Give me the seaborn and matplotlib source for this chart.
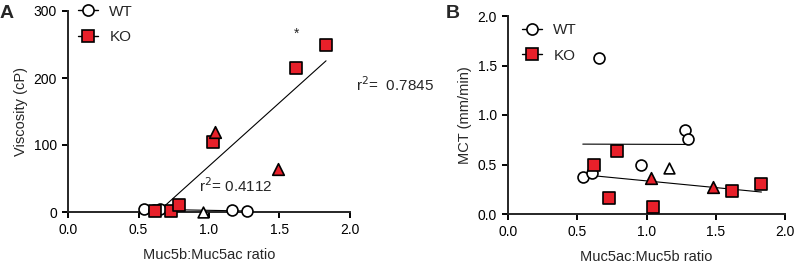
import numpy as np
import pandas as pd
import matplotlib
matplotlib.use("Agg")
import matplotlib.pyplot as plt
from matplotlib.lines import Line2D
import seaborn as sns

# ── Panel A: viscosity vs Muc5b:Muc5ac ratio ─────────────────────
A_WT_X = [0.54, 0.61, 0.65, 1.16, 1.27]
A_WT_Y = [5, 3, 5, 3, 2]
A_WT_TRI_X = [0.96]
A_WT_TRI_Y = [0]
A_KO_X = [0.62, 0.73, 0.79, 1.03, 1.62, 1.83]
A_KO_Y = [1, 1, 10, 105, 215, 250]
A_KO_TRI_X = [1.04, 1.49]
A_KO_TRI_Y = [120, 64]

# ── Panel B: MCT vs Muc5ac:Muc5b ratio ───────────────────────────
B_WT_X = [0.54, 0.61, 0.66, 0.96, 1.28, 1.30]
B_WT_Y = [0.37, 0.41, 1.58, 0.50, 0.85, 0.76]
B_WT_TRI_X = [1.16]
B_WT_TRI_Y = [0.46]
B_KO_X = [0.62, 0.73, 0.79, 1.05, 1.62, 1.83]
B_KO_Y = [0.49, 0.16, 0.64, 0.07, 0.23, 0.30]
B_KO_TRI_X = [1.03, 1.48]
B_KO_TRI_Y = [0.36, 0.27]

RED = "#e8202a"
W, H = 796, 266

sns.set_style("ticks")
plt.rcParams["font.family"] = ["Liberation Sans", "DejaVu Sans"]
plt.rcParams["axes.linewidth"] = 1.4

fig = plt.figure(figsize=(W / 100, H / 100), dpi=100)
axA = fig.add_axes([68 / W, 1 - 212 / H, 282 / W, 201 / H])
axB = fig.add_axes([508 / W, 1 - 214 / H, 277 / W, 198 / H])


def draw_panel(ax, wx, wy, wtx, wty, kx, ky, ktx, kty):
    wt = pd.DataFrame({"x": wx + wtx, "y": wy + wty})
    ko = pd.DataFrame({"x": kx + ktx, "y": ky + kty})
    for df in (wt, ko):
        sns.regplot(data=df, x="x", y="y", ax=ax, scatter=False, ci=None,
                    truncate=True, color="black", line_kws={"lw": 0.8})
    kw = dict(ax=ax, edgecolor="black", linewidth=1.2, clip_on=False,
              legend=False, zorder=3)
    sns.scatterplot(x=wx, y=wy, marker="o", s=62, color="white", **kw)
    sns.scatterplot(x=wtx, y=wty, marker="^", s=60, color="white", **kw)
    sns.scatterplot(x=kx, y=ky, marker="s", s=80, color=RED, **kw)
    sns.scatterplot(x=ktx, y=kty, marker="^", s=70, color=RED, **kw)
    ax.set_xlim(0, 2)
    ax.set_xticks([0, 0.5, 1.0, 1.5, 2.0])
    ax.set_xticklabels(["0.0", "0.5", "1.0", "1.5", "2.0"])
    ax.spines[["top", "right"]].set_visible(False)
    ax.tick_params(width=1.4, length=4, pad=4, labelsize=10, colors="black")


draw_panel(axA, A_WT_X, A_WT_Y, A_WT_TRI_X, A_WT_TRI_Y,
           A_KO_X, A_KO_Y, A_KO_TRI_X, A_KO_TRI_Y)
axA.set_ylim(0, 300)
axA.set_yticks([0, 100, 200, 300])
axA.set_xlabel("Muc5b:Muc5ac ratio", fontsize=10.5, labelpad=8)
axA.set_ylabel("Viscosity (cP)", fontsize=10.5, labelpad=4)
axA.text(1.62, 266, "*", ha="center", va="center", fontsize=10)
axA.text(2.04, 190, "r$^2$=  0.7845", ha="left", va="center",
         fontsize=11, clip_on=False)
axA.text(0.93, 40, "r$^2$= 0.4112", ha="left", va="center", fontsize=11)

draw_panel(axB, B_WT_X, B_WT_Y, B_WT_TRI_X, B_WT_TRI_Y,
           B_KO_X, B_KO_Y, B_KO_TRI_X, B_KO_TRI_Y)
axB.set_ylim(0, 2)
axB.set_yticks([0, 0.5, 1.0, 1.5, 2.0])
axB.set_yticklabels(["0.0", "0.5", "1.0", "1.5", "2.0"])
axB.set_xlabel("Muc5ac:Muc5b ratio", fontsize=10.5, labelpad=8)
axB.set_ylabel("MCT (mm/min)", fontsize=10.5, labelpad=4)

handles = [
    Line2D([], [], color="black", lw=1.0, marker="o", markersize=8,
           markerfacecolor="white", markeredgecolor="black", markeredgewidth=1.2),
    Line2D([], [], color="black", lw=1.0, marker="s", markersize=8.5,
           markerfacecolor=RED, markeredgecolor="black", markeredgewidth=1.2),
]
for x0, yc in [(78, 24.5), (522, 43)]:
    fig.legend(handles, ["WT", "KO"], loc="center left",
               bbox_to_anchor=(x0 / W, 1 - yc / H), frameon=False,
               fontsize=11, borderpad=0, borderaxespad=0,
               handlelength=1.3, handletextpad=0.75, labelspacing=0.75)

fig.text(0 / W, 1 - 14 / H, "A", fontsize=14, fontweight="bold",
         ha="left", va="center")
fig.text(446 / W, 1 - 14 / H, "B", fontsize=14, fontweight="bold",
         ha="left", va="center")

fig.savefig("out.png", dpi=100)
